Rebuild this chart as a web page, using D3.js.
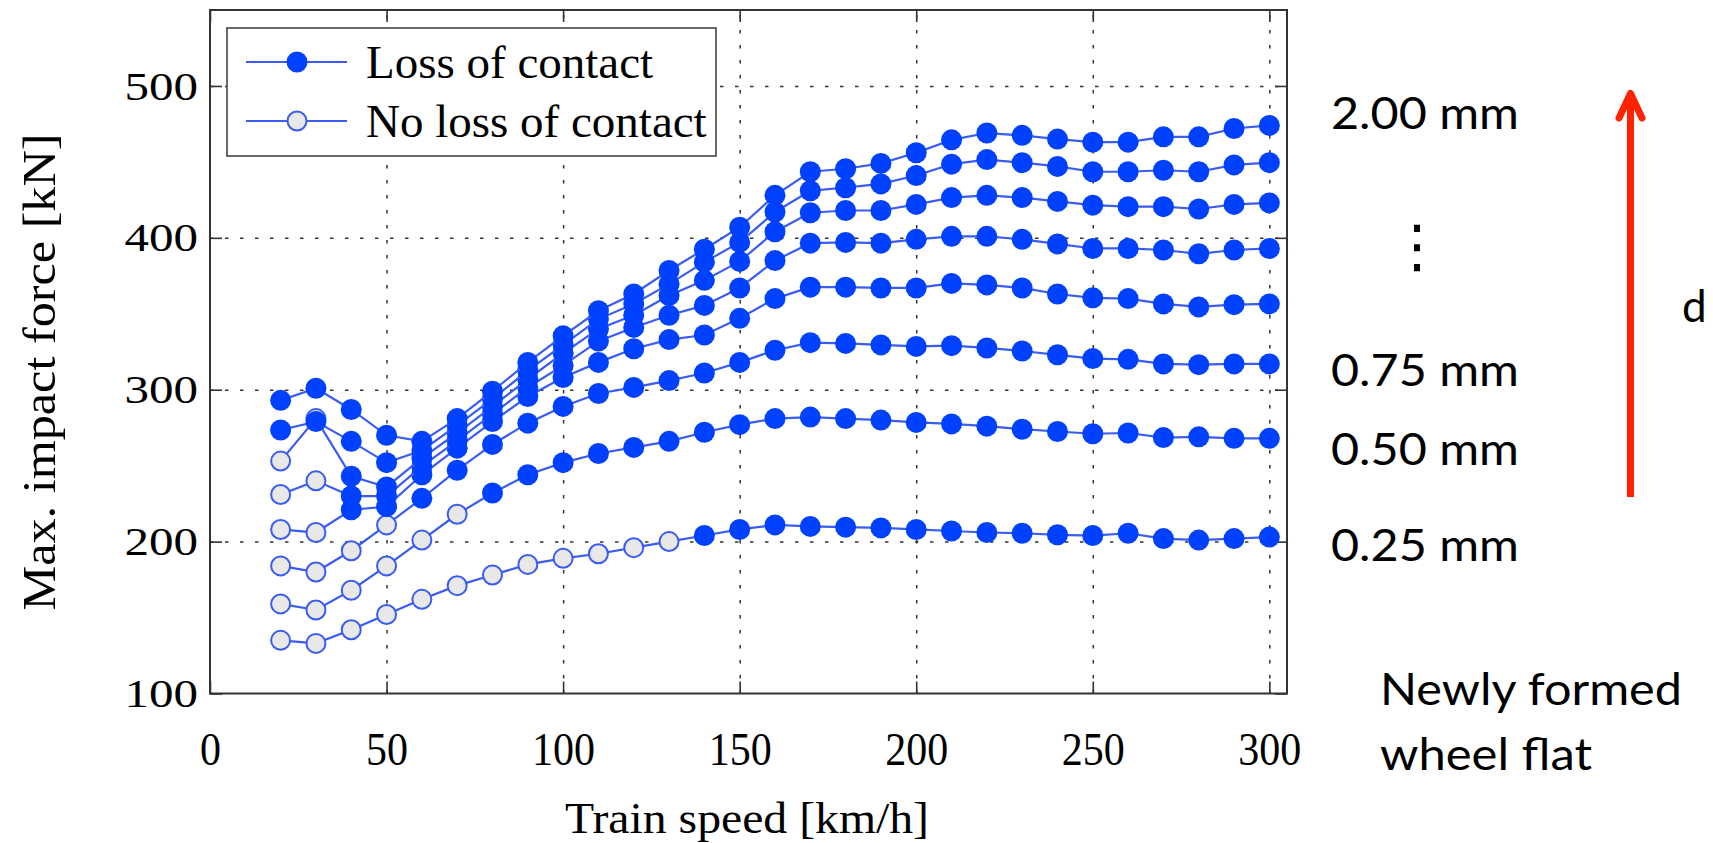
<!DOCTYPE html>
<meta charset="utf-8">
<style>
  body { margin: 0; background: #fff; }
</style>
<script src="https://cdn.jsdelivr.net/npm/d3@7"></script>
<svg id="chart" width="1713" height="843"></svg>
<script>

// speeds [km/h]
var speeds = [20, 30, 40, 50, 60, 70, 80, 90, 100, 110, 120, 130, 140, 150, 160,
              170, 180, 190, 200, 210, 220, 230, 240, 250, 260, 270, 280, 290, 300];

// flat depths, one series each
var depthLabels = ["0.25", "0.50", "0.75", "1.00", "1.25", "1.50", "1.75", "2.00"];

// speed from which the wheel loses contact (filled marker)
var lossFromSpeed = [140, 80, 60, 40, 40, 40, 20, 20];

// max. impact force [kN]
var force025 = [135, 133, 142, 152, 162, 171, 178, 185, 189, 192, 196, 200, 204, 208, 211,
                210, 209.5, 209, 208, 207, 206, 205.5, 204.5, 204, 205.5, 202, 201, 202, 203];
var force050 = [159, 155, 168, 184, 201, 218, 232, 244, 252, 258, 262, 266, 272, 277, 281,
                282, 281, 280, 278.5, 277.5, 276, 274, 272.5, 271, 271.5, 268.5, 269, 268, 268];
var force075 = [184, 180, 194, 211, 228.5, 247, 264, 278, 289, 297.5, 301.5, 306, 311, 318, 326,
                331, 330.5, 329.5, 328.5, 329, 327.5, 325.5, 323, 320.5, 320, 317, 316.5, 317, 317];
var force100 = [208, 206, 221, 223, 244, 261.5, 279, 295.5, 308, 318, 327, 333, 336, 347, 360,
                367.5, 367.5, 367, 367, 370, 369, 367, 363, 360.5, 360, 356.5, 354.5, 356, 356.5];
var force125 = [231, 240, 230, 230, 249.5, 266.5, 284, 301.5, 316, 332, 341, 349, 355.5, 367, 385,
                396.5, 397, 396.5, 399, 401, 401, 399, 396, 393, 393, 392, 389.5, 392, 393];
var force150 = [253, 281, 243, 236, 255, 271.5, 289, 307, 324, 340, 349, 362, 372, 384.5, 404,
                416.5, 418, 418, 422, 426.5, 428, 426.5, 424, 421.5, 420.5, 420.5, 419, 422, 423];
var force175 = [273.5, 279, 266, 252, 260, 276.5, 294, 312.5, 329.5, 346.5, 356.5, 369.5, 384, 397, 417,
                431, 433, 435.5, 441, 448.5, 451.5, 449.5, 447, 443.5, 443.5, 444.5, 443.5, 448, 449.5];
var force200 = [293, 301, 287, 270, 266, 281, 299, 318, 335.5, 352, 363, 378.5, 392.5, 407, 428,
                443.5, 445.5, 449, 456, 464.5, 469, 467.5, 465, 463, 463, 466.5, 466.5, 472, 474];

var xTicks = [0, 50, 100, 150, 200, 250, 300];
var yTicks = [100, 200, 300, 400, 500];

var legendLabels = ["Loss of contact", "No loss of contact"];

// side notes next to the curves
var depthNotes = [
  {text: "2.00 mm", value: 2.00},
  {text: "0.75 mm", value: 0.75},
  {text: "0.50 mm", value: 0.50},
  {text: "0.25 mm", value: 0.25}
];
var noteLines = ["Newly formed", "wheel flat"];

var serif = "'Liberation Serif', 'DejaVu Serif', serif";
var sans = "Lato, 'Open Sans', 'Noto Sans', sans-serif";
var lineColor = "#3a5cf2";
var dotColor = "#0040ff";
var openFill = "#e8e8e8";

var svg = d3.select("#chart");
svg.append("rect").attr("width", 1713).attr("height", 843).attr("fill", "#fff");

var x = d3.scaleLinear().domain([0, 305]).range([210, 1287]);
var y = d3.scaleLinear().domain([100, 550]).range([693.5, 10]);

// grid
var gridX = svg.append("g")
    .attr("transform", "translate(0," + y(100) + ")")
    .call(d3.axisBottom(x).tickValues(xTicks.filter(function(t){ return t > 0; }))
      .tickSize(-(y(100) - y(550))).tickFormat(""));
gridX.select(".domain").remove();
var gridY = svg.append("g")
    .attr("transform", "translate(" + x(0) + ",0)")
    .call(d3.axisLeft(y).tickValues(yTicks.filter(function(t){ return t > 100; }))
      .tickSize(-(x(305) - x(0))).tickFormat(""));
gridY.select(".domain").remove();
svg.selectAll(".tick line")
    .attr("stroke", "#333").attr("stroke-width", 1.5).attr("stroke-dasharray", "3.5,11.5");

// ticks (inward, all sides)
var ax = svg.append("g").attr("class", "ax");
var gBottom = ax.append("g")
    .attr("transform", "translate(0," + y(100) + ")")
    .call(d3.axisBottom(x).tickValues(xTicks).tickSizeInner(-12).tickSizeOuter(0).tickPadding(39));
var gTop = ax.append("g")
    .attr("transform", "translate(0," + y(550) + ")")
    .call(d3.axisTop(x).tickValues(xTicks).tickSizeInner(-12).tickSizeOuter(0).tickFormat(""));
var gLeft = ax.append("g")
    .attr("transform", "translate(" + x(0) + ",0)")
    .call(d3.axisLeft(y).tickValues(yTicks).tickSizeInner(-12).tickSizeOuter(0).tickPadding(12));
var gRight = ax.append("g")
    .attr("transform", "translate(" + x(305) + ",0)")
    .call(d3.axisRight(y).tickValues(yTicks).tickSizeInner(-12).tickSizeOuter(0).tickFormat(""));
ax.selectAll(".domain").remove();
ax.selectAll(".tick line").attr("stroke", "#333").attr("stroke-width", 1.6);

gBottom.selectAll("text")
    .attr("font-family", serif).attr("font-size", 46).attr("fill", "#000")
    .attr("textLength", function(d){ return String(d).length * 21; })
    .attr("lengthAdjust", "spacingAndGlyphs");
gLeft.selectAll("text")
    .attr("font-family", serif).attr("font-size", 41).attr("fill", "#000")
    .attr("textLength", function(d){ return String(d).length * 24.5; })
    .attr("lengthAdjust", "spacingAndGlyphs");

// frame
svg.append("rect")
    .attr("x", x(0)).attr("y", y(550))
    .attr("width", x(305) - x(0)).attr("height", y(100) - y(550))
    .attr("fill", "none").attr("stroke", "#333").attr("stroke-width", 2);

// axis titles
svg.append("text")
    .attr("x", 747).attr("y", 833)
    .attr("text-anchor", "middle")
    .attr("font-family", serif).attr("font-size", 45)
    .attr("textLength", 364).attr("lengthAdjust", "spacingAndGlyphs")
    .text("Train speed [km/h]");
svg.append("text")
    .attr("transform", "translate(55,372) rotate(-90)")
    .attr("text-anchor", "middle")
    .attr("font-family", serif).attr("font-size", 46)
    .attr("textLength", 477).attr("lengthAdjust", "spacingAndGlyphs")
    .text("Max. impact force [kN]");

// series
var allForces = [force025, force050, force075, force100, force125, force150, force175, force200];
var series = allForces.map(function(vals, i) {
  return {
    depth: depthLabels[i],
    pts: vals.map(function(v, j) {
      return {s: speeds[j], f: v, loss: speeds[j] >= lossFromSpeed[i]};
    })
  };
});

var line = d3.line().x(function(d){ return x(d.s); }).y(function(d){ return y(d.f); });

var sg = svg.append("g").selectAll("g").data(series).enter().append("g");
sg.append("path")
    .attr("d", function(d){ return line(d.pts); })
    .attr("fill", "none").attr("stroke", lineColor).attr("stroke-width", 2.2);
sg.selectAll("circle")
    .data(function(d){ return d.pts; })
    .enter().append("circle")
    .attr("cx", function(d){ return x(d.s); })
    .attr("cy", function(d){ return y(d.f); })
    .attr("r", function(d){ return d.loss ? 10.5 : 9.5; })
    .attr("fill", function(d){ return d.loss ? dotColor : openFill; })
    .attr("stroke", function(d){ return d.loss ? "none" : lineColor; })
    .attr("stroke-width", 2);

// legend
var lg = svg.append("g");
lg.append("rect")
    .attr("x", 227).attr("y", 28).attr("width", 489).attr("height", 128)
    .attr("fill", "#fff").attr("stroke", "#444").attr("stroke-width", 1.6);
var rows = lg.selectAll("g.row").data(legendLabels).enter().append("g")
    .attr("transform", function(d, i){ return "translate(0," + (62 + i * 59) + ")"; });
rows.append("line")
    .attr("x1", 246).attr("x2", 347).attr("y1", 0).attr("y2", 0)
    .attr("stroke", lineColor).attr("stroke-width", 2);
rows.append("circle")
    .attr("cx", 297).attr("cy", 0)
    .attr("r", function(d, i){ return i === 0 ? 10.5 : 9.5; })
    .attr("fill", function(d, i){ return i === 0 ? dotColor : openFill; })
    .attr("stroke", function(d, i){ return i === 0 ? "none" : lineColor; })
    .attr("stroke-width", 2);
rows.append("text")
    .attr("x", 366).attr("y", 16)
    .attr("font-family", serif).attr("font-size", 47)
    .text(function(d){ return d; });

// notes on the right
var noteY = d3.scaleLinear().domain([0.25, 0.50, 0.75, 2.00]).range([561, 465, 386, 129]);
svg.append("g").selectAll("text").data(depthNotes).enter().append("text")
    .attr("x", 1331).attr("y", function(d){ return noteY(d.value); })
    .attr("font-family", sans).attr("font-size", 44)
    .attr("textLength", 188).attr("lengthAdjust", "spacingAndGlyphs")
    .text(function(d){ return d.text; });
svg.append("text")
    .attr("x", 1417).attr("y", 266)
    .attr("text-anchor", "middle")
    .attr("font-family", "'DejaVu Sans', sans-serif").attr("font-size", 58)
    .text("\u22EE");
svg.append("g").selectAll("text").data(noteLines).enter().append("text")
    .attr("x", 1380).attr("y", function(d, i){ return 705 + i * 65; })
    .attr("font-family", sans).attr("font-size", 44)
    .attr("textLength", function(d, i){ return i === 0 ? 302 : 212; })
    .attr("lengthAdjust", "spacingAndGlyphs")
    .text(function(d){ return d; });
svg.append("text")
    .attr("x", 1682).attr("y", 322)
    .attr("font-family", sans).attr("font-size", 44)
    .text("d");

// red arrow
var arrowColor = "#ff2200";
svg.append("line")
    .attr("x1", 1630.5).attr("x2", 1630.5).attr("y1", 497).attr("y2", 97)
    .attr("stroke", arrowColor).attr("stroke-width", 7);
svg.append("polyline")
    .attr("points", "1619,118 1630.5,93.5 1642,118")
    .attr("fill", "none").attr("stroke", arrowColor).attr("stroke-width", 7)
    .attr("stroke-linecap", "round").attr("stroke-linejoin", "round");

</script>
